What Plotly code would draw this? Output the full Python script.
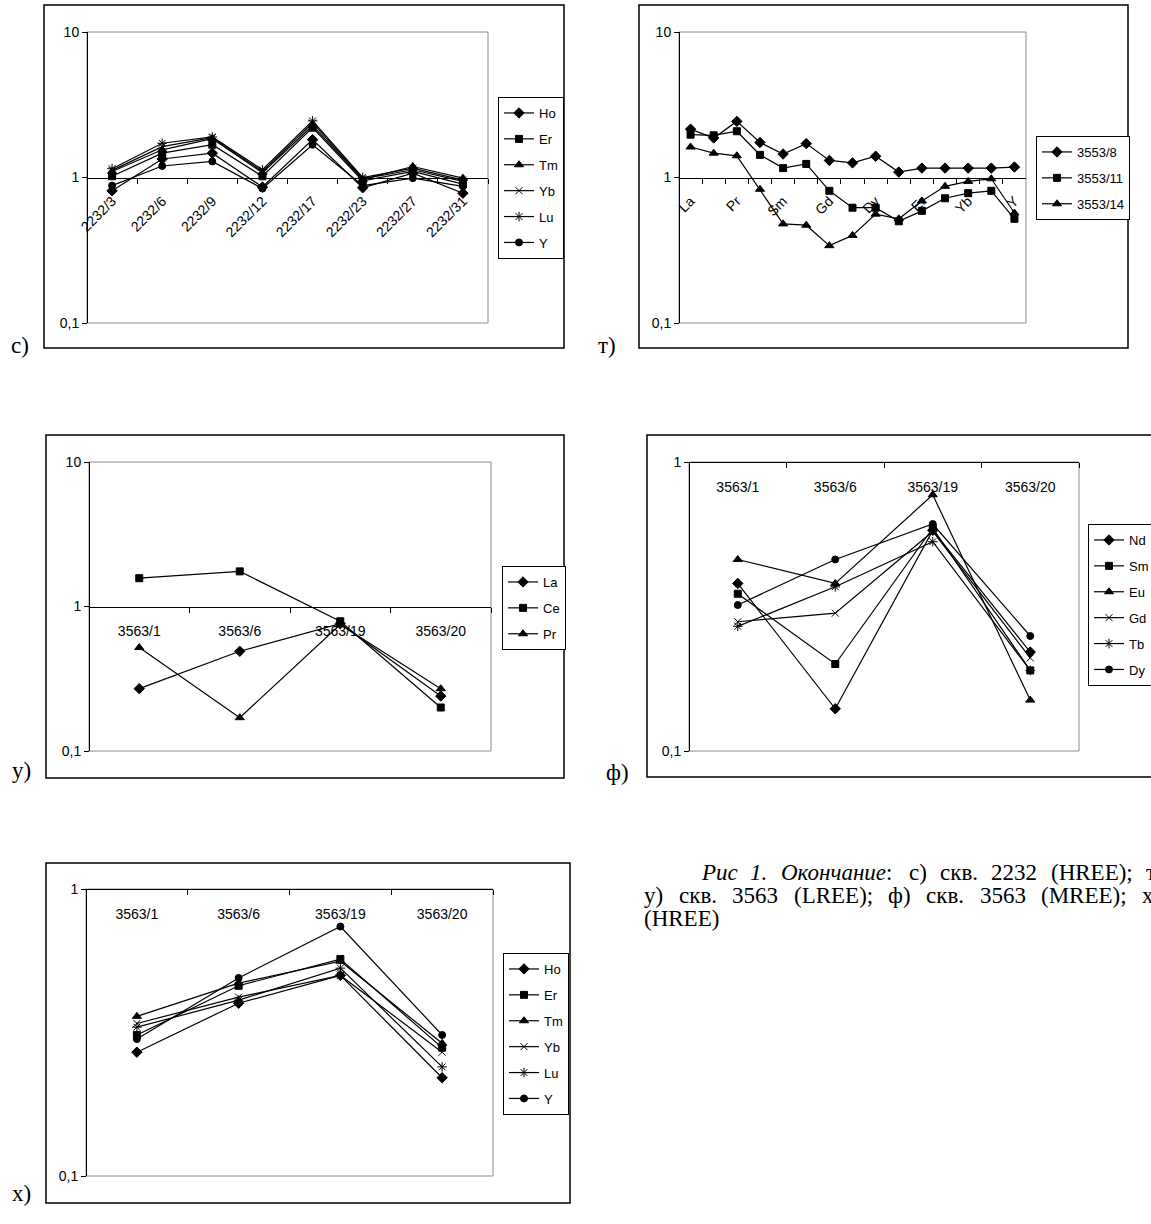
import math
import plotly.graph_objects as go

# ---------------- data ----------------
c_samples = ["2232/3", "2232/6", "2232/9", "2232/12", "2232/17", "2232/23", "2232/27", "2232/31"]
c_Ho = [0.81, 1.34, 1.47, 0.86, 1.82, 0.85, 1.07, 0.78]
c_Er = [1.02, 1.47, 1.68, 1.02, 2.20, 0.95, 1.10, 0.90]
c_Tm = [1.10, 1.55, 1.85, 1.08, 2.27, 0.97, 1.19, 0.99]
c_Yb = [1.12, 1.63, 1.88, 1.10, 2.37, 0.98, 1.13, 0.94]
c_Lu = [1.15, 1.72, 1.90, 1.13, 2.45, 1.00, 1.16, 0.96]
c_Y = [0.88, 1.20, 1.29, 0.84, 1.68, 0.88, 0.99, 0.87]

t_elements = ["La", "Ce", "Pr", "Nd", "Sm", "Eu", "Gd", "Tb", "Dy", "Ho", "Er", "Tm", "Yb", "Lu", "Y"]
t_labels = ["La", "", "Pr", "", "Sm", "", "Gd", "", "Dy", "", "Er", "", "Yb", "", "Y"]
t_3553_8 = [2.15, 1.87, 2.43, 1.74, 1.45, 1.71, 1.31, 1.26, 1.40, 1.09, 1.16, 1.16, 1.16, 1.16, 1.18]
t_3553_11 = [1.97, 1.95, 2.08, 1.43, 1.16, 1.24, 0.81, 0.62, 0.62, 0.50, 0.59, 0.72, 0.78, 0.81, 0.52]
t_3553_14 = [1.62, 1.47, 1.41, 0.83, 0.48, 0.47, 0.34, 0.40, 0.56, 0.52, 0.69, 0.87, 0.94, 0.98, 0.57]

u_samples = ["3563/1", "3563/6", "3563/19", "3563/20"]
u_La = [0.27, 0.49, 0.76, 0.24]
u_Ce = [1.57, 1.75, 0.79, 0.20]
u_Pr = [0.52, 0.17, 0.75, 0.27]

f_samples = ["3563/1", "3563/6", "3563/19", "3563/20"]
f_Nd = [0.38, 0.14, 0.58, 0.22]
f_Sm = [0.35, 0.20, 0.59, 0.19]
f_Eu = [0.46, 0.38, 0.77, 0.15]
f_Gd = [0.28, 0.30, 0.575, 0.21]
f_Tb = [0.27, 0.37, 0.53, 0.19]
f_Dy = [0.32, 0.46, 0.61, 0.25]

h_samples = ["3563/1", "3563/6", "3563/19", "3563/20"]
h_Ho = [0.27, 0.40, 0.50, 0.22]
h_Er = [0.31, 0.46, 0.57, 0.28]
h_Tm = [0.36, 0.47, 0.56, 0.29]
h_Yb = [0.34, 0.42, 0.50, 0.27]
h_Lu = [0.33, 0.41, 0.53, 0.24]
h_Y = [0.30, 0.49, 0.74, 0.31]

ytick_vals_3 = [0.1, 1, 10]
ytick_text_3 = ["0,1", "1", "10"]
ytick_vals_2 = [0.1, 1]
ytick_text_2 = ["0,1", "1"]

# caption, word by word (justified lines in the original page)
caption_line1 = ["<i>Рис</i>", "<i>1.</i>", "<i>Окончание</i>:", "с)", "скв.", "2232", "(HREE);", "т)"]
caption_line2 = ["у)", "скв.", "3563", "(LREE);", "ф)", "скв.", "3563", "(MREE);", "х)"]
caption_line3 = ["(HREE)"]

# ---------------- layout helpers ----------------
W, H = 1151, 1224
def fx(px):
    return px / W
def fy(py):
    return 1 - py / H

SANS = "Liberation Sans Narrow, Arial Narrow, Liberation Sans, Arial"
SERIF = "Liberation Serif, Times New Roman, serif"

SYM = {
    "diamond": "diamond", "square": "square", "triangle": "triangle-up",
    "x": "x-thin-open", "star": "asterisk-open", "circle": "circle",
}
SIZE = {"diamond": 8, "square": 7, "triangle": 8, "x": 7, "star": 8, "circle": 7}

# approximate Times advance widths (em) for placing caption words
TW = {"Р": .556, "и": .535, "с": .444, "1": .5, ".": .25, "О": .722, "к": .485, "о": .5,
      "н": .535, "ч": .5, "а": .444, "е": .444, ":": .278, ")": .333, "(": .333, "в": .472,
      "2": .5, "3": .5, "5": .5, "6": .5, "H": .722, "R": .667, "E": .611, "L": .611,
      "M": .889, ";": .278, "т": .437, "у": .5, "ф": .648, "х": .5}
def word_width(w, size):
    w = w.replace("<i>", "").replace("</i>", "")
    return sum(TW.get(ch, .5) for ch in w) * size

panels = [
    dict(cats=c_samples, ticktext=c_samples, series=[("Ho", c_Ho, "diamond"), ("Er", c_Er, "square"),
         ("Tm", c_Tm, "triangle"), ("Yb", c_Yb, "x"), ("Lu", c_Lu, "star"), ("Y", c_Y, "circle")],
         frame=(44, 5, 564, 348), plot=(87, 32, 488, 323), legend=(498, 97),
         yr=[-1, 1], yv=ytick_vals_3, yt=ytick_text_3, cross=1, angle=-45, label="с)", lab=(20, 345)),
    dict(cats=t_elements, ticktext=t_labels, series=[("3553/8", t_3553_8, "diamond"),
         ("3553/11", t_3553_11, "square"), ("3553/14", t_3553_14, "triangle")],
         frame=(639, 5, 1128, 348), plot=(679, 32, 1026, 323), legend=(1036, 136),
         yr=[-1, 1], yv=ytick_vals_3, yt=ytick_text_3, cross=1, angle=-45, label="т)", lab=(607, 345)),
    dict(cats=u_samples, ticktext=u_samples, series=[("La", u_La, "diamond"), ("Ce", u_Ce, "square"),
         ("Pr", u_Pr, "triangle")],
         frame=(46, 435, 564, 778), plot=(89, 462, 491, 751), legend=(502, 566),
         yr=[-1, 1], yv=ytick_vals_3, yt=ytick_text_3, cross=1, angle=0, label="у)", lab=(21, 770)),
    dict(cats=f_samples, ticktext=f_samples, series=[("Nd", f_Nd, "diamond"), ("Sm", f_Sm, "square"),
         ("Eu", f_Eu, "triangle"), ("Gd", f_Gd, "x"), ("Tb", f_Tb, "star"), ("Dy", f_Dy, "circle")],
         frame=(647, 435, 1170, 777), plot=(689, 462, 1079, 751), legend=(1088, 524),
         yr=[-1, 0], yv=ytick_vals_2, yt=ytick_text_2, cross=1, angle=0, label="ф)", lab=(617, 772)),
    dict(cats=h_samples, ticktext=h_samples, series=[("Ho", h_Ho, "diamond"), ("Er", h_Er, "square"),
         ("Tm", h_Tm, "triangle"), ("Yb", h_Yb, "x"), ("Lu", h_Lu, "star"), ("Y", h_Y, "circle")],
         frame=(46, 863, 570, 1203), plot=(86, 889, 493, 1176), legend=(503, 953),
         yr=[-1, 0], yv=ytick_vals_2, yt=ytick_text_2, cross=1, angle=0, label="х)", lab=(21, 1193)),
]

fig = go.Figure()
shapes = []
annotations = []
layout = dict(
    width=W, height=H, margin=dict(l=0, r=0, t=0, b=0, pad=0, autoexpand=False),
    paper_bgcolor="white", plot_bgcolor="white", showlegend=True,
    font=dict(family=SANS, size=14, color="black"),
)

for i, p in enumerate(panels):
    n = i + 1
    xa = "x" if n == 1 else f"x{n}"
    ya = "y" if n == 1 else f"y{n}"
    lg = "legend" if n == 1 else f"legend{n}"
    x0, y0, x1, y1 = p["plot"]
    lo, hi = p["yr"]
    frac = (math.log10(p["cross"]) - lo) / (hi - lo)
    cross_py = y1 - frac * (y1 - y0)

    for name, vals, mk in p["series"]:
        fig.add_trace(go.Scatter(
            x=p["cats"], y=vals, name=name, mode="lines+markers",
            xaxis=xa, yaxis=ya, legend=lg, legendgroup=f"{n}-{name}",
            line=dict(color="black", width=1.2),
            marker=dict(symbol=SYM[mk], size=SIZE[mk], color="black",
                        line=dict(color="black", width=1)),
        ))

    layout["xaxis" if n == 1 else f"xaxis{n}"] = dict(
        domain=[fx(x0), fx(x1)], anchor="free", position=fy(cross_py),
        type="category", categoryorder="array", categoryarray=p["cats"],
        range=[-0.5, len(p["cats"]) - 0.5],
        tickmode="array", tickvals=p["cats"], ticktext=p["ticktext"],
        tickson="boundaries", ticks="outside", ticklen=5, tickcolor="black",
        showline=True, linecolor="black", linewidth=1, showgrid=False, zeroline=False,
        tickangle=p["angle"], side="bottom", ticklabelstandoff=(9 if p["angle"] else 12),
        tickfont=dict(family=SANS, size=14, color="black"), fixedrange=True,
    )
    layout["yaxis" if n == 1 else f"yaxis{n}"] = dict(
        domain=[fy(y1), fy(y0)], anchor="free", position=fx(x0),
        type="log", range=p["yr"], tickmode="array", tickvals=p["yv"], ticktext=p["yt"],
        ticks="outside", ticklen=5, tickcolor="black",
        showline=True, linecolor="black", linewidth=1, showgrid=False, zeroline=False,
        tickfont=dict(family=SANS, size=14, color="black"), fixedrange=True,
    )
    lx, ly = p["legend"]
    layout[lg] = dict(
        x=fx(lx), y=fy(ly), xanchor="left", yanchor="top", xref="paper", yref="paper",
        bgcolor="white", bordercolor="black", borderwidth=1,
        font=dict(family=SANS, size=13, color="black"),
        traceorder="grouped", tracegroupgap=6, itemwidth=30,
    )
    shapes.append(dict(type="rect", xref="paper", yref="paper", x0=fx(x0), x1=fx(x1),
                       y0=fy(y1), y1=fy(y0), line=dict(color="#8c8c8c", width=1), layer="below"))
    fx0, fy0, fx1, fy1 = p["frame"]
    shapes.append(dict(type="rect", xref="paper", yref="paper", x0=fx(fx0), x1=fx(fx1),
                       y0=fy(fy1), y1=fy(fy0), line=dict(color="black", width=1.5), layer="below"))
    annotations.append(dict(text=p["label"], x=fx(p["lab"][0]), y=fy(p["lab"][1]),
                            xref="paper", yref="paper", xanchor="center", yanchor="middle",
                            showarrow=False, font=dict(family=SERIF, size=23, color="black")))

CAP = 23
for words, (cx, cy), gap in [(caption_line1, (699, 872), 13.5),
                             (caption_line2, (642, 895), 15.5),
                             (caption_line3, (642, 918), 5.8)]:
    x = cx
    for w in words:
        annotations.append(dict(text=w, x=fx(x), y=fy(cy), xref="paper", yref="paper",
                                xanchor="left", yanchor="middle", showarrow=False,
                                font=dict(family=SERIF, size=CAP, color="black")))
        x += word_width(w, CAP) + gap

layout["shapes"] = shapes
layout["annotations"] = annotations
fig.update_layout(**layout)

fig.write_html("out.html", config={"displayModeBar": False, "staticPlot": True},
               post_script="document.body.style.margin='0';document.body.style.overflow='hidden';")
